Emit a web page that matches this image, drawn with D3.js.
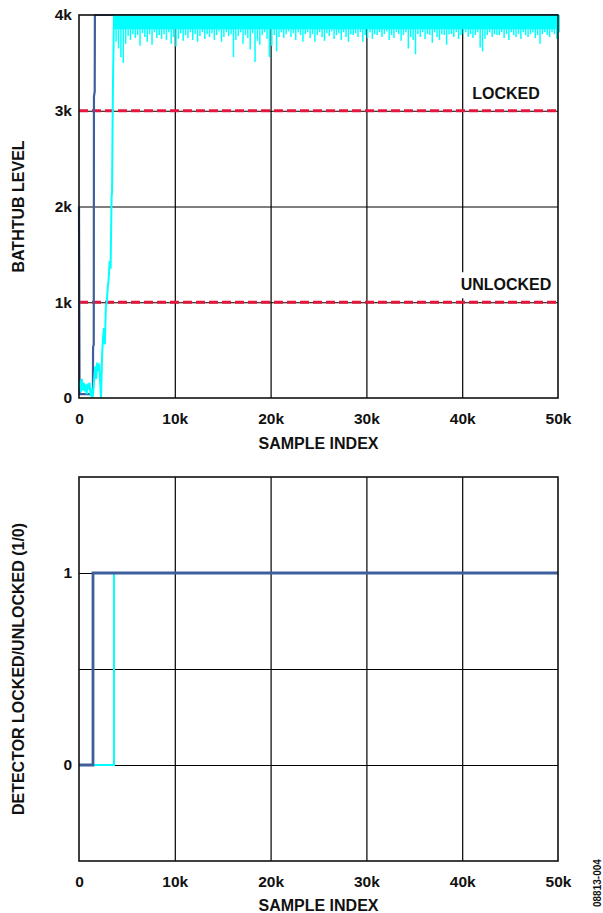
<!DOCTYPE html>
<html>

<head>
    <meta charset="utf-8">
    <script src="https://d3js.org/d3.v7.min.js"></script>
    <title>bathtub detector</title>
    <style>
        body {
            margin: 0;
            background: white;
        }

        text {
            font-family: "Liberation Sans", Arial, sans-serif;
            font-weight: bold;
            fill: #111;
        }
    </style>
</head>

<body>
    <div id="chart-container"></div>

    <script>
        // x ticks shared by both panels
        const xTicks = [0, 10000, 20000, 30000, 40000, 50000];
        const xTickLabels = ["0", "10k", "20k", "30k", "40k", "50k"];

        // top panel: bathtub level
        const levelTicks = [0, 1000, 2000, 3000, 4000];
        const levelTickLabels = ["0", "1k", "2k", "3k", "4k"];
        const thresholds = [3000, 1000];
        const thresholdNames = ["LOCKED", "UNLOCKED"];

        // dark trace (fast detector)
        const darkIdx = [0, 60, 1450, 1470, 1540, 1560, 1640, 1660, 50000];
        const darkLevel = [2000, 40, 40, 530, 560, 3150, 3200, 4000, 4000];

        // cyan trace, acquisition part
        const cyanIdx = [0, 100, 200, 300, 400, 500, 600, 700, 800, 900, 1000, 1100, 1200, 1300, 1400, 1500,
            1600, 1700, 1800, 1900, 2000, 2100, 2200, 2300, 2400, 2500, 2600, 2700, 2800, 2900, 3000,
            3100, 3200, 3300, 3400, 3450, 3500, 3550, 3650];
        const cyanLevel = [100, 180, 60, 200, 80, 160, 70, 140, 40, 150, 90, 160, 20, 100, 0, 80,
            220, 330, 200, 370, 280, 360, 180, 0, 420, 620, 730, 560, 950, 1000, 1150,
            1250, 1430, 1350, 2100, 2150, 2800, 3300, 4000];

        // cyan trace once locked: dense band from 4k down to a floor,
        // plus the lowest level per 250-sample bin
        const binStart = 3750;
        const binSize = 250;
        const cyanFloor = 3850;
        const cyanBinMin = [
            3720, 3650, 3560, 3500, 3700, 3780, 3740, 3800, 3760, 3790, 3680, 3810, 3770, 3720, 3800, 3690, 3820, 3760, 3790, 3750,
            3800, 3740, 3820, 3700, 3770, 3670, 3750, 3810, 3730, 3790, 3760, 3820, 3740, 3800, 3720, 3780, 3820, 3750, 3800, 3770,
            3810, 3740, 3790, 3830, 3720, 3770, 3820, 3780, 3800, 3560, 3740, 3780, 3820, 3700, 3790, 3760, 3640, 3810, 3510, 3730,
            3690, 3790, 3820, 3750, 3560, 3680, 3790, 3620, 3770, 3820, 3760, 3800, 3830, 3770, 3810, 3740, 3820, 3790, 3720, 3800,
            3820, 3760, 3800, 3720, 3790, 3820, 3770, 3730, 3810, 3780, 3830, 3750, 3790, 3810, 3740, 3820, 3770, 3720, 3800, 3790,
            3810, 3770, 3820, 3720, 3790, 3760, 3820, 3750, 3800, 3790, 3820, 3770, 3800, 3830, 3740, 3790, 3760, 3820, 3800, 3730,
            3790, 3820, 3650, 3770, 3740, 3590, 3800, 3770, 3820, 3750, 3800, 3790, 3710, 3820, 3770, 3740, 3800, 3790, 3690, 3800,
            3800, 3770, 3820, 3750, 3790, 3800, 3820, 3770, 3800, 3760, 3790, 3820, 3660, 3620, 3750, 3790, 3820, 3770, 3800, 3790,
            3790, 3820, 3760, 3800, 3740, 3820, 3790, 3770, 3800, 3750, 3820, 3790, 3770, 3800, 3820, 3760, 3790, 3700, 3800, 3820,
            3790, 3770, 3820, 3800, 3750, 3820
        ];

        // bottom panel: detector state
        const stateTicks = [0, 1];
        const stateGrid = [0, 0.5, 1];
        const darkStateIdx = [0, 1460, 50000];
        const darkState = [0, 1, 1];
        const cyanStateIdx = [0, 3650, 50000];
        const cyanState = [0, 1, 1];

        const darkColor = "#3f5f9c";
        const cyanColor = "#00ffff";
        const redColor = "#e5163c";

        const width = 603;
        const height = 913;
        const left = 79, right = 558;

        const svg = d3.create("svg")
            .attr("width", width)
            .attr("height", height);

        const x = d3.scaleLinear().domain([0, 50000]).range([left, right]);
        const yTop = d3.scaleLinear().domain([0, 4000]).range([398, 15]);
        const yBot = d3.scaleLinear().domain([-0.5, 1.5]).range([861, 477]);

        const fmtX = d => xTickLabels[xTicks.indexOf(d)];

        function drawFrame(y, y0, y1, hGrid, yValues, yFmt, titleY, yTitle) {
            const g = svg.append("g");

            // vertical grid
            g.append("g")
                .attr("transform", `translate(0,${y1})`)
                .call(d3.axisBottom(x).tickValues(xTicks.slice(1, -1)).tickSize(-(y1 - y0)).tickFormat(""))
                .call(a => a.select(".domain").remove())
                .selectAll("line").attr("stroke", "#000").attr("stroke-width", 1.2);

            // horizontal grid
            g.append("g")
                .attr("transform", `translate(${left},0)`)
                .call(d3.axisLeft(y).tickValues(hGrid).tickSize(-(right - left)).tickFormat(""))
                .call(a => a.select(".domain").remove())
                .selectAll("line").attr("stroke", "#000").attr("stroke-width", 1.2);

            // tick labels
            g.append("g")
                .attr("transform", `translate(${left},0)`)
                .call(d3.axisLeft(y).tickValues(yValues).tickSize(0).tickPadding(7).tickFormat(yFmt))
                .call(a => a.select(".domain").remove())
                .selectAll("text").attr("font-size", 15.5).attr("font-family", null);

            g.append("g")
                .attr("transform", `translate(0,${y1})`)
                .call(d3.axisBottom(x).tickValues(xTicks).tickSize(0).tickPadding(15).tickFormat(fmtX))
                .call(a => a.select(".domain").remove())
                .selectAll("text").attr("font-size", 15.5).attr("font-family", null);

            svg.append("text")
                .attr("x", (left + right) / 2)
                .attr("y", titleY)
                .attr("text-anchor", "middle")
                .attr("font-size", 16)
                .text("SAMPLE INDEX");

            svg.append("text")
                .attr("transform", `translate(24,${(y0 + y1) / 2}) rotate(-90)`)
                .attr("text-anchor", "middle")
                .attr("font-size", 16)
                .text(yTitle);

            return g;
        }

        // ---------- top panel ----------
        drawFrame(yTop, 15, 398, [1000, 2000, 3000], levelTicks,
            d => levelTickLabels[levelTicks.indexOf(d)], 449, "BATHTUB LEVEL");

        // threshold labels, UNLOCKED sits on a white patch over the grid
        thresholdNames.forEach((name, i) => {
            const ty = yTop(thresholds[i]) - 18;
            const t = svg.append("text")
                .attr("x", 506)
                .attr("y", ty + 6)
                .attr("text-anchor", "middle")
                .attr("font-size", 16)
                .text(name);
            if (name === "UNLOCKED") {
                const node = t.node();
                svg.insert("rect", () => node)
                    .attr("x", 460).attr("y", ty - 12)
                    .attr("width", 94).attr("height", 26)
                    .attr("fill", "white");
            }
        });

        svg.selectAll(".thresh")
            .data(thresholds)
            .join("line")
            .attr("class", "thresh")
            .attr("x1", left).attr("x2", right)
            .attr("y1", d => yTop(d)).attr("y2", d => yTop(d))
            .attr("stroke", redColor)
            .attr("stroke-width", 3)
            .attr("stroke-dasharray", "9,4");

        const lineTop = d3.line().x(d => x(d[0])).y(d => yTop(d[1]));

        svg.append("path")
            .attr("d", lineTop(darkIdx.map((d, i) => [d, darkLevel[i]])))
            .attr("fill", "none")
            .attr("stroke", darkColor)
            .attr("stroke-width", 2.2);

        svg.append("path")
            .attr("d", lineTop(cyanIdx.map((d, i) => [d, cyanLevel[i]])))
            .attr("fill", "none")
            .attr("stroke", cyanColor)
            .attr("stroke-width", 2);

        // solid part of the band
        svg.append("path")
            .attr("d", d3.area().x(d => x(d)).y0(yTop(cyanFloor)).y1(yTop(4000))([binStart - 100, 50000]))
            .attr("fill", cyanColor);

        const binW = x(binSize) - x(0);
        svg.append("g")
            .selectAll("line")
            .data(cyanBinMin)
            .join("line")
            .attr("x1", (d, i) => x(binStart + i * binSize) + binW / 2)
            .attr("x2", (d, i) => x(binStart + i * binSize) + binW / 2)
            .attr("y1", yTop(4000))
            .attr("y2", d => yTop(d))
            .attr("stroke", cyanColor)
            .attr("stroke-width", 1.5);

        svg.append("rect")
            .attr("x", left).attr("y", 15)
            .attr("width", right - left).attr("height", 398 - 15)
            .attr("fill", "none")
            .attr("stroke", "#111")
            .attr("stroke-width", 1.6);

        // ---------- bottom panel ----------
        drawFrame(yBot, 477, 861, stateGrid, stateTicks, d => String(d), 911,
            "DETECTOR LOCKED/UNLOCKED (1/0)");

        const lineBot = d3.line().curve(d3.curveStepAfter).x(d => x(d[0])).y(d => yBot(d[1]));

        svg.append("path")
            .attr("d", lineBot(cyanStateIdx.map((d, i) => [d, cyanState[i]])))
            .attr("fill", "none")
            .attr("stroke", cyanColor)
            .attr("stroke-width", 2);

        svg.append("path")
            .attr("d", lineBot(darkStateIdx.map((d, i) => [d, darkState[i]])))
            .attr("fill", "none")
            .attr("stroke", darkColor)
            .attr("stroke-width", 2.8);

        svg.append("rect")
            .attr("x", left).attr("y", 477)
            .attr("width", right - left).attr("height", 861 - 477)
            .attr("fill", "none")
            .attr("stroke", "#111")
            .attr("stroke-width", 1.6);

        svg.append("text")
            .attr("transform", "translate(601,907) rotate(-90)")
            .attr("font-size", 10)
            .attr("font-weight", "normal")
            .text("08813-004");

        document.getElementById("chart-container").appendChild(svg.node());
    </script>

</body>

</html>
